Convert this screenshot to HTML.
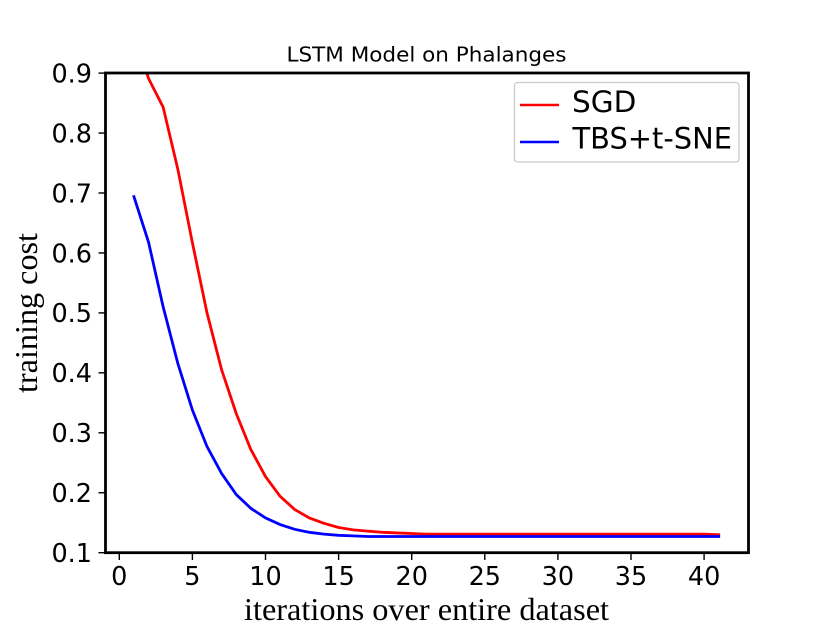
<!DOCTYPE html>
<html>
<head>
<meta charset="utf-8">
<title>LSTM Model on Phalanges</title>
<style>
html,body{margin:0;padding:0;background:#fff;width:830px;height:622px;overflow:hidden}
svg{display:block}
.tick{font-family:"DejaVu Sans",sans-serif;font-size:25.5px;fill:#000}
.leg{font-family:"DejaVu Sans",sans-serif;font-size:29.5px;fill:#000}
.ttl{font-family:"DejaVu Sans",sans-serif;font-size:20px;fill:#000}
.axl{font-family:"Liberation Serif",serif;font-size:32px;fill:#000}
</style>
</head>
<body>
<svg id="chart" width="830" height="622" viewBox="0 0 830 622" xmlns="http://www.w3.org/2000/svg">
  <defs><clipPath id="plot-clip"><rect x="105.5" y="73" width="643" height="480"/></clipPath></defs>
  <rect x="0" y="0" width="830" height="622" fill="#fff"/>
  <g id="series" clip-path="url(#plot-clip)"></g>
  <g id="ticks"></g>
  <rect x="105.5" y="73" width="643" height="479.7" fill="none" stroke="#000" stroke-width="2.8"/>
  <text class="ttl" x="426.5" y="61.5" text-anchor="middle" textLength="280" lengthAdjust="spacingAndGlyphs">LSTM Model on Phalanges</text>
  <text class="axl" x="426.5" y="620" text-anchor="middle" textLength="365" lengthAdjust="spacingAndGlyphs">iterations over entire dataset</text>
  <text class="axl" transform="translate(37 313) rotate(-90)" text-anchor="middle" textLength="160" lengthAdjust="spacingAndGlyphs">training cost</text>
  <g>
    <rect x="514.5" y="82.5" width="224.5" height="79.5" rx="3" ry="3" fill="#fff" fill-opacity="0.9" stroke="#ccc" stroke-width="1.3"/>
    <line x1="520" y1="105" x2="559" y2="105" stroke="#f00" stroke-width="2.6"/>
    <text class="leg" x="572" y="112">SGD</text>
    <line x1="520" y1="142" x2="559" y2="142" stroke="#00f" stroke-width="2.6"/>
    <text class="leg" x="572.5" y="148.5" textLength="159.5" lengthAdjust="spacingAndGlyphs">TBS+t-SNE</text>
  </g>
</svg>
<script>
const iterations = [1,2,3,4,5,6,7,8,9,10,11,12,13,14,15,16,17,18,19,20,21,22,23,24,25,26,27,28,29,30,31,32,33,34,35,36,37,38,39,40,41];
const sgdCost = [0.97,0.891,0.843,0.74,0.617,0.5,0.405,0.332,0.272,0.227,0.194,0.172,0.158,0.149,0.142,0.138,0.136,0.134,0.133,0.132,0.131,0.131,0.131,0.131,0.131,0.131,0.131,0.131,0.131,0.131,0.131,0.131,0.131,0.131,0.131,0.131,0.131,0.131,0.131,0.131,0.130];
const tbsCost = [0.694,0.618,0.51,0.416,0.338,0.277,0.232,0.197,0.174,0.158,0.147,0.139,0.134,0.131,0.129,0.128,0.127,0.127,0.127,0.127,0.127,0.127,0.127,0.127,0.127,0.127,0.127,0.127,0.127,0.127,0.127,0.127,0.127,0.127,0.127,0.127,0.127,0.127,0.127,0.127,0.127];
const xTickValues = [0,5,10,15,20,25,30,35,40];
const yTickValues = [0.1,0.2,0.3,0.4,0.5,0.6,0.7,0.8,0.9];

const NS = 'http://www.w3.org/2000/svg';
function xScale(v){ return 119.3 + v * 14.62; }
function yScale(v){ return 552.7 - (v - 0.1) * 599.5; }

const seriesGroup = document.getElementById('series');
const tickGroup = document.getElementById('ticks');

function seriesPoints(values){
  return values.map(function(v, i){ return xScale(iterations[i]).toFixed(2) + ',' + yScale(v).toFixed(2); }).join(' ');
}

const sgdLine = document.createElementNS(NS, 'polyline');


sgdLine.setAttribute('points', seriesPoints(sgdCost));
sgdLine.setAttribute('fill', 'none');
sgdLine.setAttribute('stroke', '#f00');
sgdLine.setAttribute('stroke-width', '2.8');
sgdLine.setAttribute('stroke-linecap', 'square');
seriesGroup.appendChild(sgdLine);

const tbsLine = document.createElementNS(NS, 'polyline');


tbsLine.setAttribute('points', seriesPoints(tbsCost));
tbsLine.setAttribute('fill', 'none');
tbsLine.setAttribute('stroke', '#00f');
tbsLine.setAttribute('stroke-width', '2.8');
tbsLine.setAttribute('stroke-linecap', 'square');
seriesGroup.appendChild(tbsLine);

xTickValues.forEach(function(v){
  const mark = document.createElementNS(NS, 'line');
  
  
  mark.setAttribute('x1', xScale(v));
  mark.setAttribute('x2', xScale(v));
  mark.setAttribute('y1', 553);
  mark.setAttribute('y2', 560);
  mark.setAttribute('stroke', '#000');
  mark.setAttribute('stroke-width', '1.4');
  tickGroup.appendChild(mark);
  const label = document.createElementNS(NS, 'text');
  
  
  label.setAttribute('class', 'tick');
  label.setAttribute('x', xScale(v));
  label.setAttribute('y', 585);
  label.setAttribute('text-anchor', 'middle');
  label.textContent = String(v);
  tickGroup.appendChild(label);
});

yTickValues.forEach(function(v){
  const mark = document.createElementNS(NS, 'line');
  
  
  mark.setAttribute('x1', 98.5);
  mark.setAttribute('x2', 105.5);
  mark.setAttribute('y1', yScale(v));
  mark.setAttribute('y2', yScale(v));
  mark.setAttribute('stroke', '#000');
  mark.setAttribute('stroke-width', '1.4');
  tickGroup.appendChild(mark);
  const label = document.createElementNS(NS, 'text');
  
  
  label.setAttribute('class', 'tick');
  label.setAttribute('x', 92);
  label.setAttribute('y', yScale(v) + 9.3);
  label.setAttribute('text-anchor', 'end');
  label.textContent = v.toFixed(1);
  tickGroup.appendChild(label);
});
</script>
</body>
</html>
